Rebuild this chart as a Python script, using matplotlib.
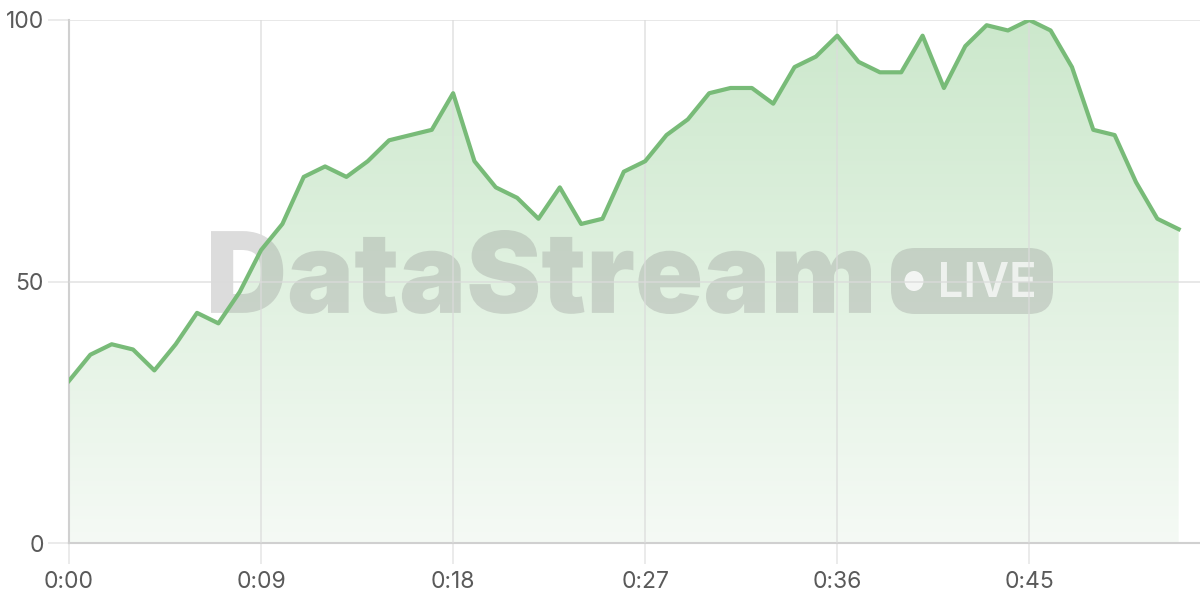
import matplotlib
matplotlib.use('Agg')
import matplotlib.pyplot as plt
from matplotlib.patches import FancyBboxPatch, Ellipse, Polygon, PathPatch
from matplotlib.colors import LinearSegmentedColormap
from matplotlib.textpath import TextPath
from matplotlib.font_manager import FontProperties
import matplotlib.transforms as mtransforms
import numpy as np

seconds = list(range(53))
values = [31, 36, 38, 37, 33, 38, 44, 42, 48, 56,
          61, 70, 72, 70, 73, 77, 78, 79, 86, 73,
          68, 66, 62, 68, 61, 62, 71, 73, 78, 81,
          86, 87, 87, 84, 91, 93, 97, 92, 90, 90,
          97, 87, 95, 99, 98, 100, 98, 91, 79, 78,
          69, 62, 60]
xticks = [0, 9, 18, 27, 36, 45]
xtick_labels = ['0:00', '0:09', '0:18', '0:27', '0:36', '0:45']
yticks = [0, 50, 100]

W, H = 1200, 600
line_color = '#78bb78'
grid_color = (0.86, 0.86, 0.86, 0.75)
plt.rcParams['font.family'] = ['Inter', 'DejaVu Sans']

fig = plt.figure(figsize=(W / 100, H / 100), dpi=100)
ax = fig.add_axes([69 / W, 1 - 543 / H, 1 - 69 / W, 523 / H])
ax.set_xlim(0, 53)
ax.set_ylim(0, 100)

# gradient fill under the line
x = np.array(seconds, dtype=float)
y = np.array(values, dtype=float)
cmap = LinearSegmentedColormap.from_list('g', [(0.96, 0.98, 0.96), (0.80, 0.91, 0.80)])
grad = np.linspace(0, 1, 256).reshape(-1, 1)
im = ax.imshow(grad, extent=[0, 53, 0, 100], origin='lower', aspect='auto',
               cmap=cmap, zorder=1)
verts = np.vstack([[x[0], 0], np.column_stack([x, y]), [x[-1], 0]])
poly = Polygon(verts, closed=True, facecolor='none', edgecolor='none')
ax.add_patch(poly)
im.set_clip_path(poly)

ax.plot(x, y, color=line_color, linewidth=3, zorder=4)

# grid, drawn over fill and watermark
for t in xticks[1:]:
    ax.axvline(t, color=grid_color, linewidth=1.2, zorder=3.5)
for t in yticks[1:]:
    ax.axhline(t, color=grid_color, linewidth=1.2, zorder=3.5)

for s in ['top', 'right']:
    ax.spines[s].set_visible(False)
for s in ['left', 'bottom']:
    ax.spines[s].set_color('#d0d0d0')
    ax.spines[s].set_linewidth(1.5)

ax.set_xticks(xticks)
ax.set_xticklabels(xtick_labels)
ax.set_yticks(yticks)
ax.tick_params(axis='x', length=15, color='#e8e8e8', width=1.2, pad=5,
               labelsize=16.5, labelcolor='#5a5a5a')
ax.tick_params(axis='y', length=15, color='#e8e8e8', width=1.2, pad=3,
               labelsize=16.5, labelcolor='#5a5a5a')

# watermark, placed in pixel coordinates (origin top-left)
px = mtransforms.Affine2D().scale(1 / W, -1 / H).translate(0, 1) + fig.transFigure
wm_color = (0.55, 0.55, 0.55)


def fit_text(s, box, weight, **kw):
    tp = TextPath((0, 0), s, size=100, prop=FontProperties(family='Inter', weight=weight))
    bb = tp.get_extents()
    x0, y0, x1, y1 = box
    tr = (mtransforms.Affine2D().translate(-bb.x0, -bb.y0)
          .scale((x1 - x0) / bb.width, -(y1 - y0) / bb.height)
          .translate(x0, y1)) + px
    p = PathPatch(tp, transform=tr, edgecolor='none', clip_on=False, **kw)
    ax.add_artist(p)


fit_text('DataStream', (211, 230, 871, 314), 'black', facecolor=wm_color, alpha=0.3, zorder=3)

badge = FancyBboxPatch((891, 248), 162, 66, boxstyle='round,pad=0,rounding_size=24',
                       transform=px, facecolor=wm_color, alpha=0.3,
                       edgecolor='none', zorder=3, clip_on=False)
ax.add_artist(badge)
dot = Ellipse((914, 281), 19, 20, transform=px, facecolor='white', alpha=0.8,
              edgecolor='none', zorder=3, clip_on=False)
ax.add_artist(dot)
fit_text('LIVE', (941, 262, 1034, 297), 'semibold', facecolor='white', alpha=0.7, zorder=3)

fig.savefig('out.png', dpi=100)
